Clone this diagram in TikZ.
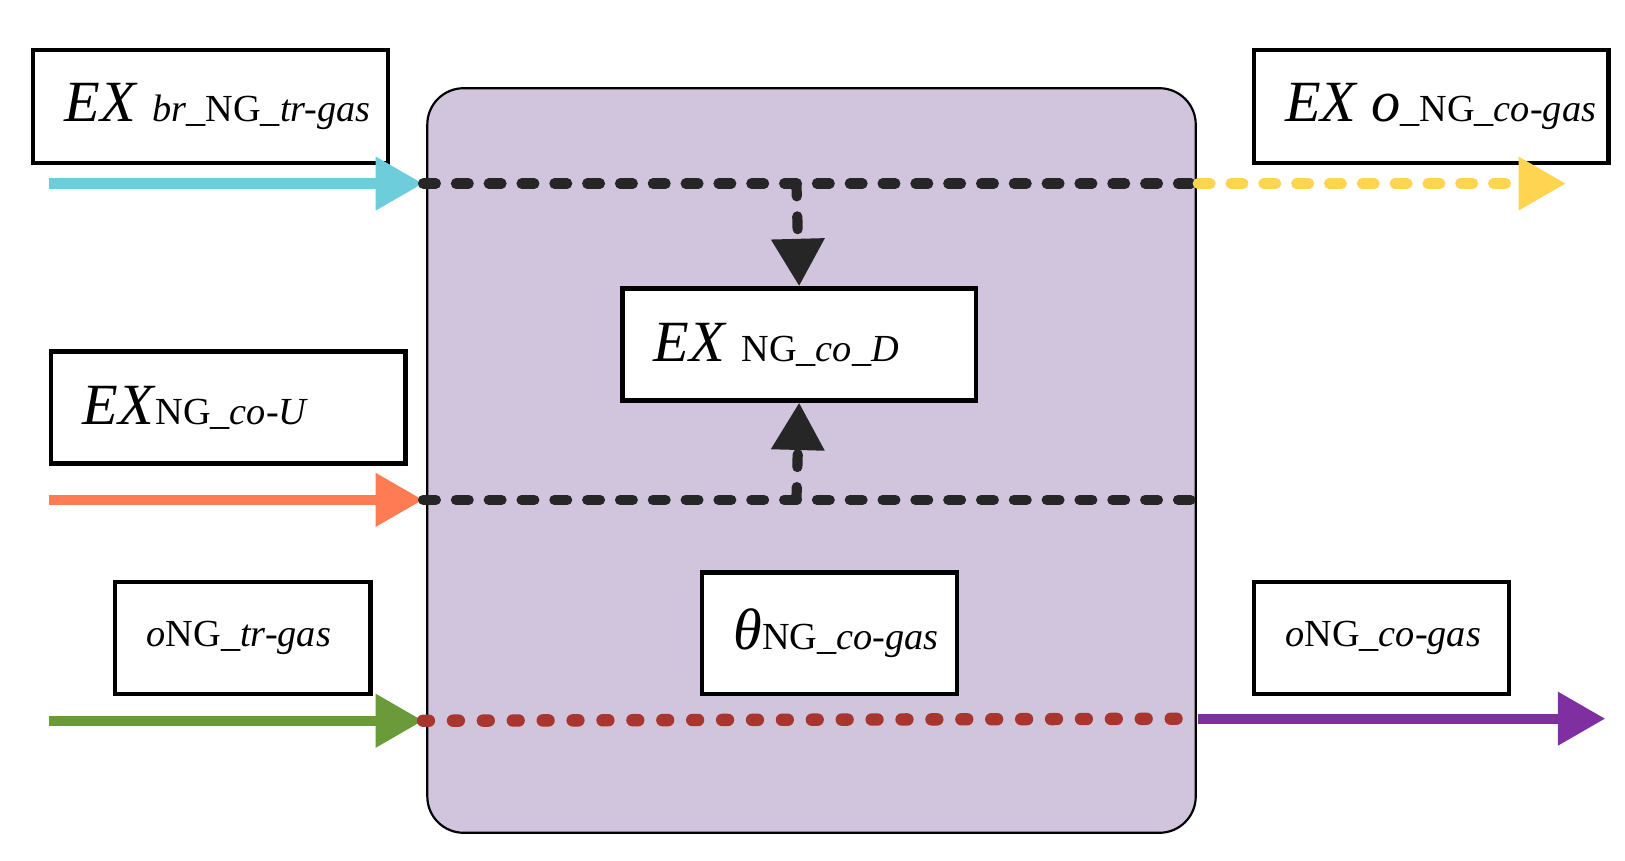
\documentclass[tikz,border=0pt]{standalone}
\usepackage{fontspec}
\setmainfont{Liberation Serif}
\usetikzlibrary{arrows.meta}
\begin{document}
\begin{tikzpicture}[x=0.01cm,y=-0.01cm,
 bx/.style={draw=black,line width=1.2pt,fill=white,inner sep=0pt},
 tip/.style={-{Triangle[length=13pt,width=14pt]}},
 solidl/.style={line width=2.8pt,tip},
 dsh/.style={line width=2.8pt,line cap=round,dash pattern=on 3.5pt off 5.5pt},
 dt/.style={line width=3.4pt,line cap=round,dash pattern=on 1.6pt off 6.6pt}]
\useasboundingbox (0,0) rectangle (1567,830);
\definecolor{pbg}{HTML}{D1C4DD}
\definecolor{cy}{HTML}{6DCDDB}\definecolor{ye}{HTML}{FFD451}
\definecolor{orn}{HTML}{FF7B54}\definecolor{gr}{HTML}{6A9A3A}
\definecolor{rd}{HTML}{A8352E}\definecolor{pu}{HTML}{7F2FA0}
\node[draw=black,line width=0.6pt,fill=pbg,rounded corners=0.35cm,minimum width=741*0.01cm,minimum height=718*0.01cm,anchor=north west] (main) at (411,84) {};
\newcommand{\bxat}[6]{\node[bx,minimum width=#3*0.01cm,minimum height=#4*0.01cm,anchor=north west] (#5) at (#1,#2) {};\node[anchor=west,font=\fontsize{16}{18}\selectfont] at ([xshift=0.2cm]#5.west) {#6};}
\bxat{30}{46}{342}{109}{b1}{\textit{EX} {\fontsize{10.5}{12}\selectfont\itshape br\_\upshape NG\_\itshape tr-gas}}
\bxat{1207}{46}{342}{109}{b2}{\textit{EX o}{\fontsize{10.5}{12}\selectfont\_NG\_\itshape co-gas}}
\bxat{598}{276}{341}{108}{b3}{\textit{EX} {\fontsize{10.5}{12}\selectfont NG\_\itshape co\_D}}
\bxat{47}{337}{342}{108}{b4}{\textit{EX}{\fontsize{10.5}{12}\selectfont NG\_\itshape co-U}}
\bxat{109}{559}{246}{108}{b5}{{\fontsize{10.5}{12}\selectfont\textit{o}NG\_\itshape tr-gas}}
\bxat{675}{550}{246}{117}{b6}{\textit{θ}{\fontsize{10.5}{12}\selectfont NG\_\itshape co-gas}}
\bxat{1207}{559}{246}{108}{b7}{{\fontsize{10.5}{12}\selectfont\textit{o}NG\_\itshape co-gas}}
\coordinate (c1s) at (47,177); \coordinate (c1e) at (408,177); \coordinate (c1r) at (1155,177); \coordinate (c1y) at (1510,177);
\coordinate (c2s) at (47,482); \coordinate (c2e) at (408,482); \coordinate (c2r) at (1148,482);
\coordinate (c3s) at (47,695); \coordinate (c3e) at (408,695); \coordinate (c3r) at (1155,693); \coordinate (c3p) at (1548,693);
\coordinate (v1) at (768,177); \coordinate (v2) at (768,482);
\draw[solidl,cy] (c1s) -- (c1e);
\draw[dsh,black!85] (c1e) -- (c1r);
\draw[dsh,ye,tip] (c1r) -- (c1y);
\draw[dsh,black!85,tip] (v1) -- (b3.north);
\draw[solidl,orn] (c2s) -- (c2e);
\draw[dsh,black!85] (c2e) -- (c2r);
\draw[dsh,black!85,tip] (v2) -- (b3.south);
\draw[solidl,gr] (c3s) -- (c3e);
\draw[dt,rd] (c3e) -- (c3r);
\draw[solidl,pu] (c3r) -- (c3p);
\end{tikzpicture}
\end{document}
